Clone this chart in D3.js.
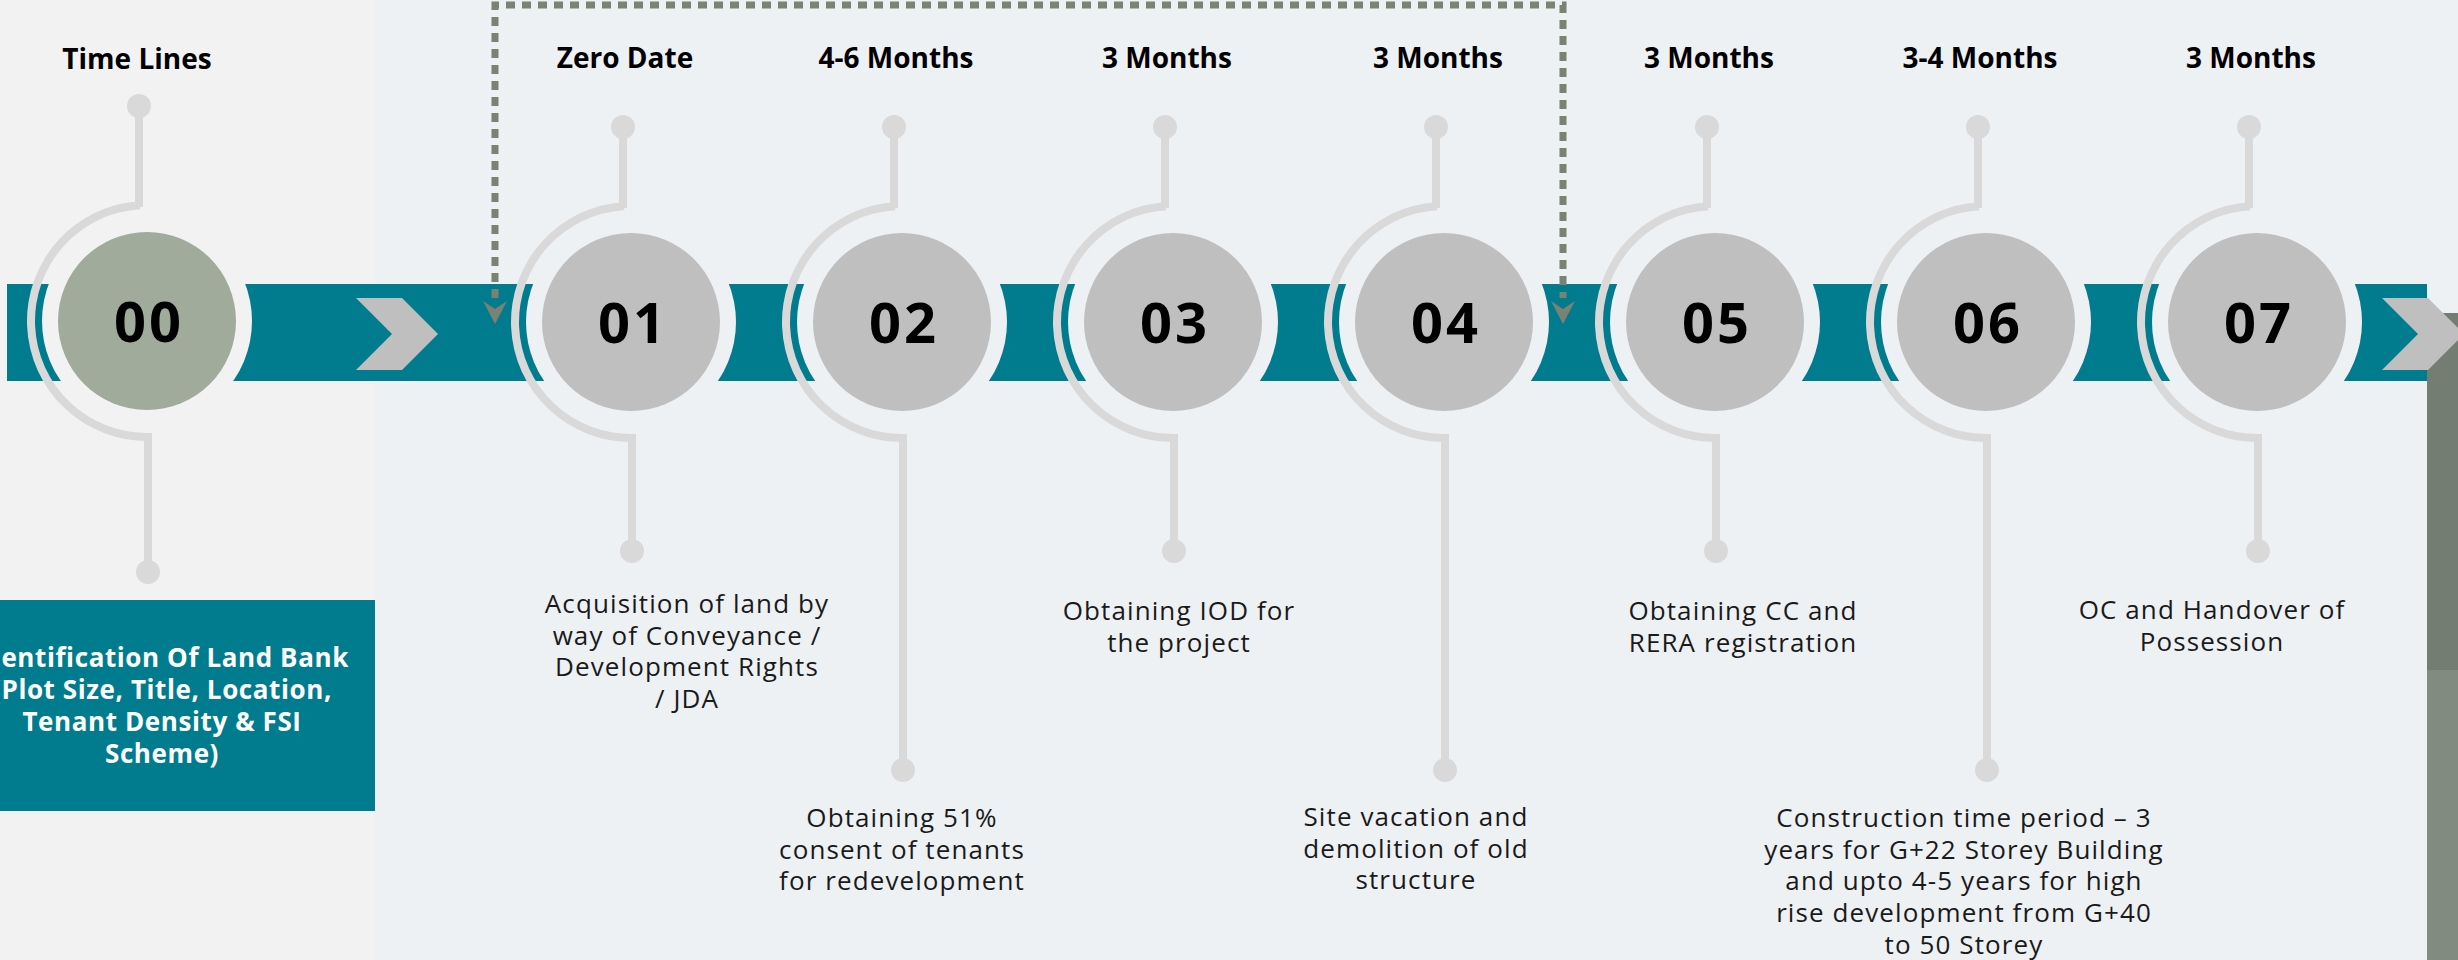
<!DOCTYPE html>
<html>
<head>
<meta charset="utf-8">
<script src="https://cdn.jsdelivr.net/npm/d3@7"></script>
<style>
html, body { margin: 0; padding: 0; background: #edf1f4; overflow: hidden; }
svg { display: block; }
</style>
</head>
<body>
<div id="chart"></div>
<script>
// timeline data
var startStep = "00";
var startLabel = "Time Lines";
var startText = ["Identification Of Land Bank", "(Plot Size, Title, Location,", "Tenant Density & FSI", "Scheme)"];

var steps = ["01", "02", "03", "04", "05", "06", "07"];
var durations = ["Zero Date", "4-6 Months", "3 Months", "3 Months", "3 Months", "3-4 Months", "3 Months"];
var descriptions = [
  ["Acquisition of land by", "way of Conveyance /", "Development Rights", "/ JDA"],
  ["Obtaining 51%", "consent of tenants", "for redevelopment"],
  ["Obtaining IOD for", "the project"],
  ["Site vacation and", "demolition of old", "structure"],
  ["Obtaining CC and", "RERA registration"],
  ["Construction time period \u2013 3", "years for G+22 Storey Building", "and upto 4-5 years for high", "rise development from G+40", "to 50 Storey"],
  ["OC and Handover of", "Possession"]
];

//Width and height
var w = 2458;
var h = 960;
var font = "'Open Sans', 'Noto Sans', sans-serif";

var teal = "#017c8f";
var lineGray = "#d9d9d9";
var bg = "#edf1f4";
var bgLeft = "#f2f2f2";
var dotGreen = "#798273";

var barTop = 284, barBottom = 381;
var cy = 322;
var R = 89;        // main circle
var halo = 105;    // background ring round circle

var x = d3.scalePoint()
          .domain(steps)
          .range([631, 2257]);

// small per-step text shifts
var descDx = [56, 0, 6, -28, 28, -22, -45];
var descDy = [-6, 0, 1, -1, 1, 0, 0];

var svg = d3.select("#chart")
            .append("svg")
            .attr("width", w)
            .attr("height", h);

//Backgrounds
svg.append("rect").attr("width", w).attr("height", h).attr("fill", bg);
svg.append("rect").attr("width", 375).attr("height", h).attr("fill", bgLeft);
svg.append("rect").attr("x", 2427).attr("y", 313).attr("width", 40).attr("height", 357).attr("fill", "#737d71");
svg.append("rect").attr("x", 2427).attr("y", 670).attr("width", 40).attr("height", 290).attr("fill", "#818b7f");

//Teal bar
svg.append("rect")
   .attr("x", 7).attr("y", barTop)
   .attr("width", 2427 - 7).attr("height", barBottom - barTop)
   .attr("fill", teal);

//Dotted bracket over steps 01..04
var bx0 = x("01") - 136;
var bx1 = x("04") + 119;
svg.append("path")
   .attr("d", "M" + bx0 + ",298V5H" + bx1 + "V298")
   .attr("fill", "none")
   .attr("stroke", dotGreen)
   .attr("stroke-width", 7)
   .attr("stroke-dasharray", "9,7");
[bx0, bx1].forEach(function(ax) {
  svg.append("path")
     .attr("d", "M" + (ax - 12) + ",301L" + ax + ",309L" + (ax + 12) + ",301L" + ax + ",324Z")
     .attr("fill", dotGreen);
});

//Chevrons
function chevron(x0, yc) {
  return "M" + x0 + "," + (yc - 36) + "h46l36,36l-36,36h-46l36,-36z";
}
svg.append("path").attr("d", chevron(356, 334)).attr("fill", "#bfbfbf");
svg.append("path").attr("d", chevron(2382, 334)).attr("fill", "#bfbfbf");

//Ring arc on the left side of each circle
var arc = d3.arc()
            .innerRadius(112)
            .outerRadius(120)
            .startAngle(-Math.PI - 0.02)
            .endAngle(-0.06);

function node(g, cxv, cyv, label, fill, haloFill, topY, bottomY) {
  g.append("path")
   .attr("transform", "translate(" + cxv + "," + cyv + ")")
   .attr("d", arc())
   .attr("fill", lineGray);
  g.append("line")
   .attr("x1", cxv - 8).attr("x2", cxv - 8)
   .attr("y1", cyv - 114).attr("y2", topY)
   .attr("stroke", lineGray).attr("stroke-width", 8);
  g.append("circle").attr("cx", cxv - 8).attr("cy", topY).attr("r", 12).attr("fill", lineGray);
  g.append("line")
   .attr("x1", cxv + 1).attr("x2", cxv + 1)
   .attr("y1", cyv + 112).attr("y2", bottomY)
   .attr("stroke", lineGray).attr("stroke-width", 8);
  g.append("circle").attr("cx", cxv + 1).attr("cy", bottomY).attr("r", 12).attr("fill", lineGray);
  g.append("circle").attr("cx", cxv).attr("cy", cyv).attr("r", halo).attr("fill", haloFill);
  g.append("circle").attr("cx", cxv).attr("cy", cyv).attr("r", R).attr("fill", fill);
  g.append("text")
   .attr("x", cxv + 2).attr("y", cyv + 21)
   .attr("text-anchor", "middle")
   .attr("font-family", font)
   .attr("font-weight", 700)
   .attr("font-size", 56)
   .attr("letter-spacing", 3)
   .attr("fill", "#000")
   .text(label);
}

//Step 00
var g0 = svg.append("g");
node(g0, 147, 321, startStep, "#a0ab9b", bgLeft, 106, 572);
g0.append("text")
  .attr("x", 137).attr("y", 69)
  .attr("text-anchor", "middle")
  .attr("font-family", font).attr("font-weight", 700).attr("font-size", 28)
  .attr("fill", "#000")
  .text(startLabel);

svg.append("rect")
   .attr("x", 0).attr("y", 600)
   .attr("width", 375).attr("height", 211)
   .attr("fill", teal);
svg.append("text")
   .attr("text-anchor", "middle")
   .attr("font-family", font).attr("font-weight", 700).attr("font-size", 26)
   .attr("letter-spacing", 0.6)
   .attr("fill", "#fff")
   .selectAll("tspan")
   .data(startText)
   .enter()
   .append("tspan")
   .attr("x", 162)
   .attr("y", function(d, i) { return 667 + i * 32; })
   .text(function(d) { return d; });

//Steps 01..07
var nodes = svg.selectAll("g.step")
               .data(steps)
               .enter()
               .append("g")
               .attr("class", "step");

nodes.each(function(d, i) {
  var g = d3.select(this);
  var low = i % 2 === 1;
  node(g, x(d), cy, d, "#bfbfbf", bg, 127, low ? 770 : 551);

  g.append("text")
   .attr("x", x(d) - 6).attr("y", 68)
   .attr("text-anchor", "middle")
   .attr("font-family", font).attr("font-weight", 700).attr("font-size", 28)
   .attr("fill", "#000")
   .text(durations[i]);

  g.append("text")
   .attr("text-anchor", "middle")
   .attr("font-family", font).attr("font-size", 26)
   .attr("letter-spacing", 1.1)
   .attr("fill", "#1a1a1a")
   .selectAll("tspan")
   .data(descriptions[i])
   .enter()
   .append("tspan")
   .attr("x", x(d) + descDx[i])
   .attr("y", function(t, j) { return (low ? 827 : 619) + descDy[i] + j * 31.7; })
   .text(function(t) { return t; });
});
</script>
</body>
</html>
